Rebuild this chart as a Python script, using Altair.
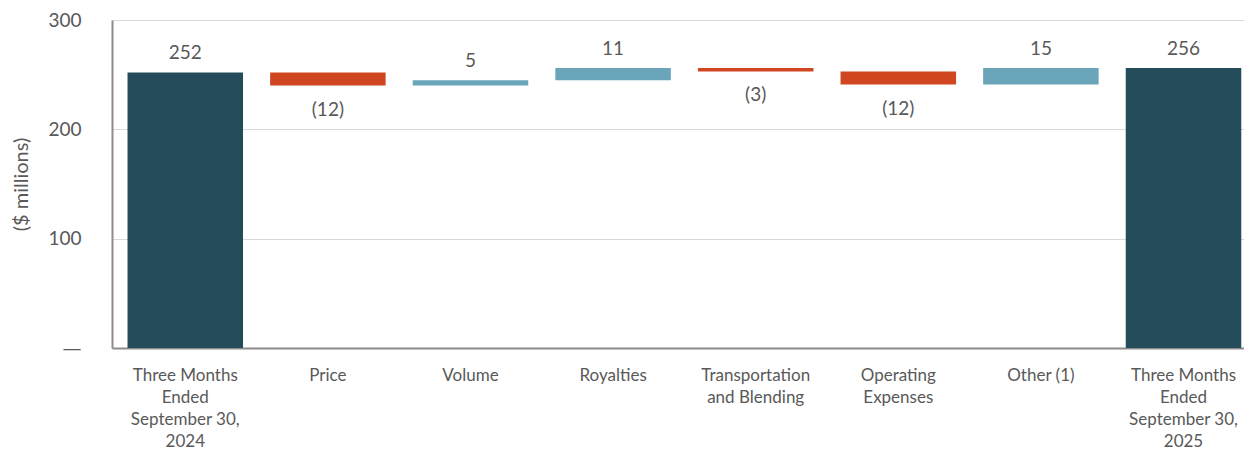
import altair as alt
import pandas as pd

categories = [
    "Three Months|Ended|September 30,|2024",
    "Price",
    "Volume",
    "Royalties",
    "Transportation|and Blending",
    "Operating|Expenses",
    "Other (1)",
    "Three Months|Ended|September 30,|2025",
]
values = [252, -12, 5, 11, -3, -12, 15, 256]
kinds = ["total", "change", "change", "change", "change", "change", "change", "total"]

rows = []
running = 0
for i, (c, v, k) in enumerate(zip(categories, values, kinds)):
    if k == "total":
        start, end = 0, v
        running = v
        color = "total"
        label = f"{v}"
    else:
        start, end = running, running + v
        running = end
        color = "up" if v >= 0 else "down"
        label = f"{v}" if v >= 0 else f"({-v})"
    rows.append({
        "cat": c, "order": i, "start": start, "end": end,
        "lo": min(start, end), "hi": max(start, end),
        "kind": color, "label": label,
    })
df = pd.DataFrame(rows)

FONT = "Lato"
GRAY = "#595959"

x = alt.X(
    "cat:N",
    sort=categories,
    title=None,
    scale=alt.Scale(paddingInner=0.19, paddingOuter=0.064, align=0.85),
    axis=alt.Axis(
        labelAngle=0,
        labelExpr="split(datum.label, '|')",
        labelFont=FONT,
        labelFontSize=17,
        labelColor=GRAY,
        labelLineHeight=22,
        labelBaseline="top",
        labelPadding=19,
        ticks=False,
        domainColor="#8C8C8C",
        domainWidth=2,
        labelLimit=200,
    ),
)

y_scale = alt.Scale(domain=[0, 300], nice=False)

bars = alt.Chart(df).mark_bar().encode(
    x=x,
    y=alt.Y(
        "lo:Q",
        scale=y_scale,
        title="($ millions)",
        axis=alt.Axis(
            values=[0, 100, 200, 300],
            labelExpr="datum.value == 0 ? '—' : datum.label",
            labelFont={"condition": {"test": "datum.value == 0", "value": "DejaVu Sans"}, "value": FONT},
            labelFontSize=19,
            labelColor=GRAY,
            labelPadding=31,
            ticks=False,
            grid=True,
            gridColor="#D9D9D9",
            gridWidth=1,
            domainColor="#8C8C8C",
            domainWidth=2,
            titleFont=FONT,
            titleFontSize=20,
            titleFontWeight="normal",
            titleColor=GRAY,
            titlePadding=16,
        ),
    ),
    y2="hi:Q",
    color=alt.Color(
        "kind:N",
        scale=alt.Scale(domain=["total", "up", "down"], range=["#254C5A", "#6BA5BA", "#D04620"]),
        legend=None,
    ),
)

pos_labels = alt.Chart(df).transform_filter("datum.kind != 'down'").mark_text(
    font=FONT, fontSize=19, color=GRAY, baseline="middle", dy=-19
).encode(x=alt.X("cat:N", sort=categories), y=alt.Y("hi:Q", scale=y_scale), text="label:N")

neg_labels = alt.Chart(df).transform_filter("datum.kind == 'down'").mark_text(
    font=FONT, fontSize=19, color=GRAY, baseline="middle", dy=24
).encode(x=alt.X("cat:N", sort=categories), y=alt.Y("lo:Q", scale=y_scale), text="label:N")

chart = alt.layer(bars, pos_labels, neg_labels).properties(
    width=1132,
    height=328,
    padding={"left": 112, "top": 20, "right": 0, "bottom": 102},
    autosize=alt.AutoSizeParams(type="none"),
    background="white",
).configure_view(stroke=None)

chart.save("out.html", embed_options={"renderer": "svg", "actions": False})
